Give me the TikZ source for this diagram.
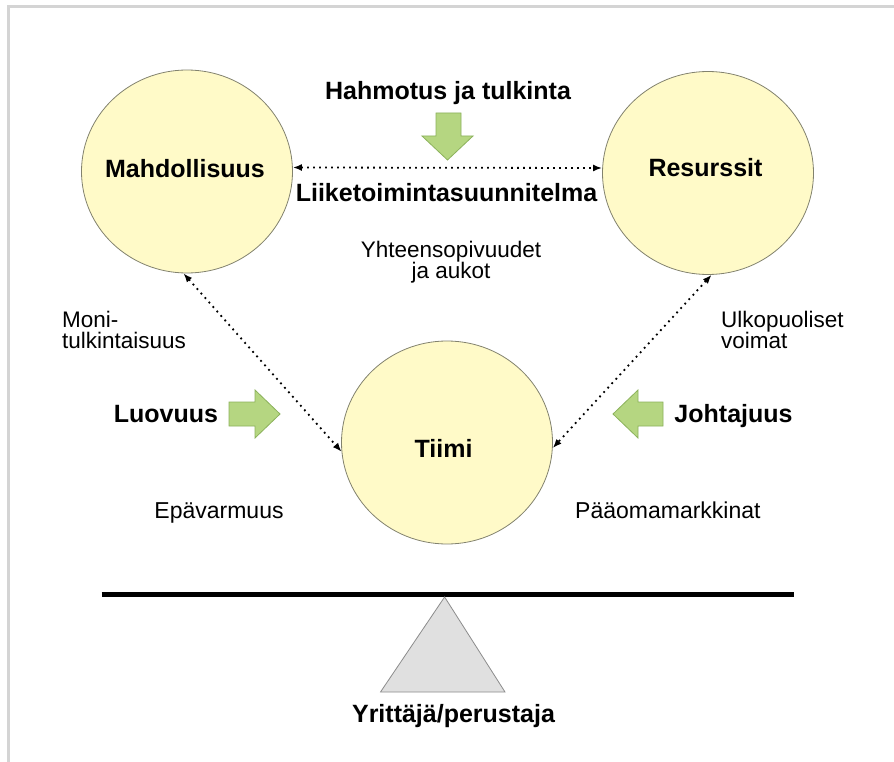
\documentclass[tikz,border=0pt]{standalone}
\usepackage{fontspec}
\setmainfont{Liberation Sans}
\usetikzlibrary{shapes.geometric,arrows.meta}
\definecolor{circfill}{RGB}{255,250,200}
\definecolor{circdraw}{RGB}{130,130,110}
\definecolor{greenfill}{RGB}{181,214,129}
\definecolor{greendraw}{RGB}{140,178,92}
\definecolor{framegray}{RGB}{212,212,212}
\definecolor{trifill}{RGB}{224,224,224}
\definecolor{tridraw}{RGB}{140,140,140}
\tikzset{
  bigcirc/.style={ellipse, draw=circdraw, fill=circfill, line width=0.8pt, inner sep=0pt, minimum width=211pt, minimum height=203pt},
  boldlbl/.style={font=\fontsize{25}{30}\selectfont\bfseries, inner sep=0pt, anchor=base},
  plainlbl/.style={font=\fontsize{23}{27}\selectfont, inner sep=0pt, anchor=base},
  twoline/.style={font=\fontsize{22.5}{21}\selectfont, inner sep=0pt},
  dotarrow/.style={line width=1.8pt, dash pattern=on 1.8pt off 4.2pt, {Latex[length=9pt,width=7pt]}-{Latex[length=9pt,width=7pt]}},
  greenarrow/.style={fill=greenfill, draw=greendraw, line width=0.8pt},
}
\begin{document}
\begin{tikzpicture}[x=1pt,y=-1pt]
\useasboundingbox (0,0) rectangle (894,762);
\fill[white] (0,0) rectangle (894,762);
% frame
\draw[framegray, line width=3pt] (8.5,762) -- (8.5,6.5) -- (894,6.5);

% circles
\node[bigcirc] (M) at (187,171.5) {};
\node[bigcirc] (R) at (708,173) {};
\node[bigcirc] (T) at (447,442.5) {};

% circle labels
\node[boldlbl] (Mt) at (185,178) {Mahdollisuus};
\node[boldlbl] (Rt) at (705.5,177) {Resurssit};
\node[boldlbl] (Tt) at (443.5,457) {Tiimi};

% top labels
\node[boldlbl] (hahm) at (448,100) {Hahmotus ja tulkinta};
\node[boldlbl] (liik) at (446.5,202) {Liiketoimintasuunnitelma};
\node[twoline, align=center, anchor=base] (yht) at (451,278.5) {Yhteensopivuudet\\ja aukot};

% side labels
\node[twoline, align=left, anchor=base west] (moni) at (62,348.5) {Moni-\\tulkintaisuus};
\node[twoline, align=left, anchor=base west] (ulko) at (721,348.5) {Ulkopuoliset\\voimat};
\node[boldlbl] (luov) at (166,422) {Luovuus};
\node[boldlbl] (joht) at (733.5,422) {Johtajuus};
\node[plainlbl] (epav) at (219,518) {Epävarmuus};
\node[plainlbl, anchor=base west] (paao) at (575,518) {Pääomamarkkinat};
\node[boldlbl] (yrit) at (453.5,722) {Yrittäjä/perustaja};

% dotted connectors
\draw[dotarrow] ([yshift=4pt]M.east) -- ([yshift=5pt]R.west);
\draw[dotarrow] (M.268) -- (T.185);
\draw[dotarrow] (R.272) -- (T.357);

% green block arrows
\draw[greenarrow] (436,113) -- (461,113) -- (461,136) -- (473,136) -- (447.5,160) -- (422,136) -- (436,136) -- cycle;
\draw[greenarrow] (229,402) -- (255,402) -- (255,390) -- (280,414) -- (255,438) -- (255,426) -- (229,426) -- cycle;
\draw[greenarrow] (663,402) -- (638,402) -- (638,390) -- (613,414) -- (638,438) -- (638,426) -- (663,426) -- cycle;

% seesaw
\draw[black, line width=5pt] (101.5,594.5) -- (794,594.5);
\draw[fill=trifill, draw=tridraw, line width=0.8pt] (444.6,597) -- (505,692) -- (380.5,692) -- cycle;
\end{tikzpicture}
\end{document}
